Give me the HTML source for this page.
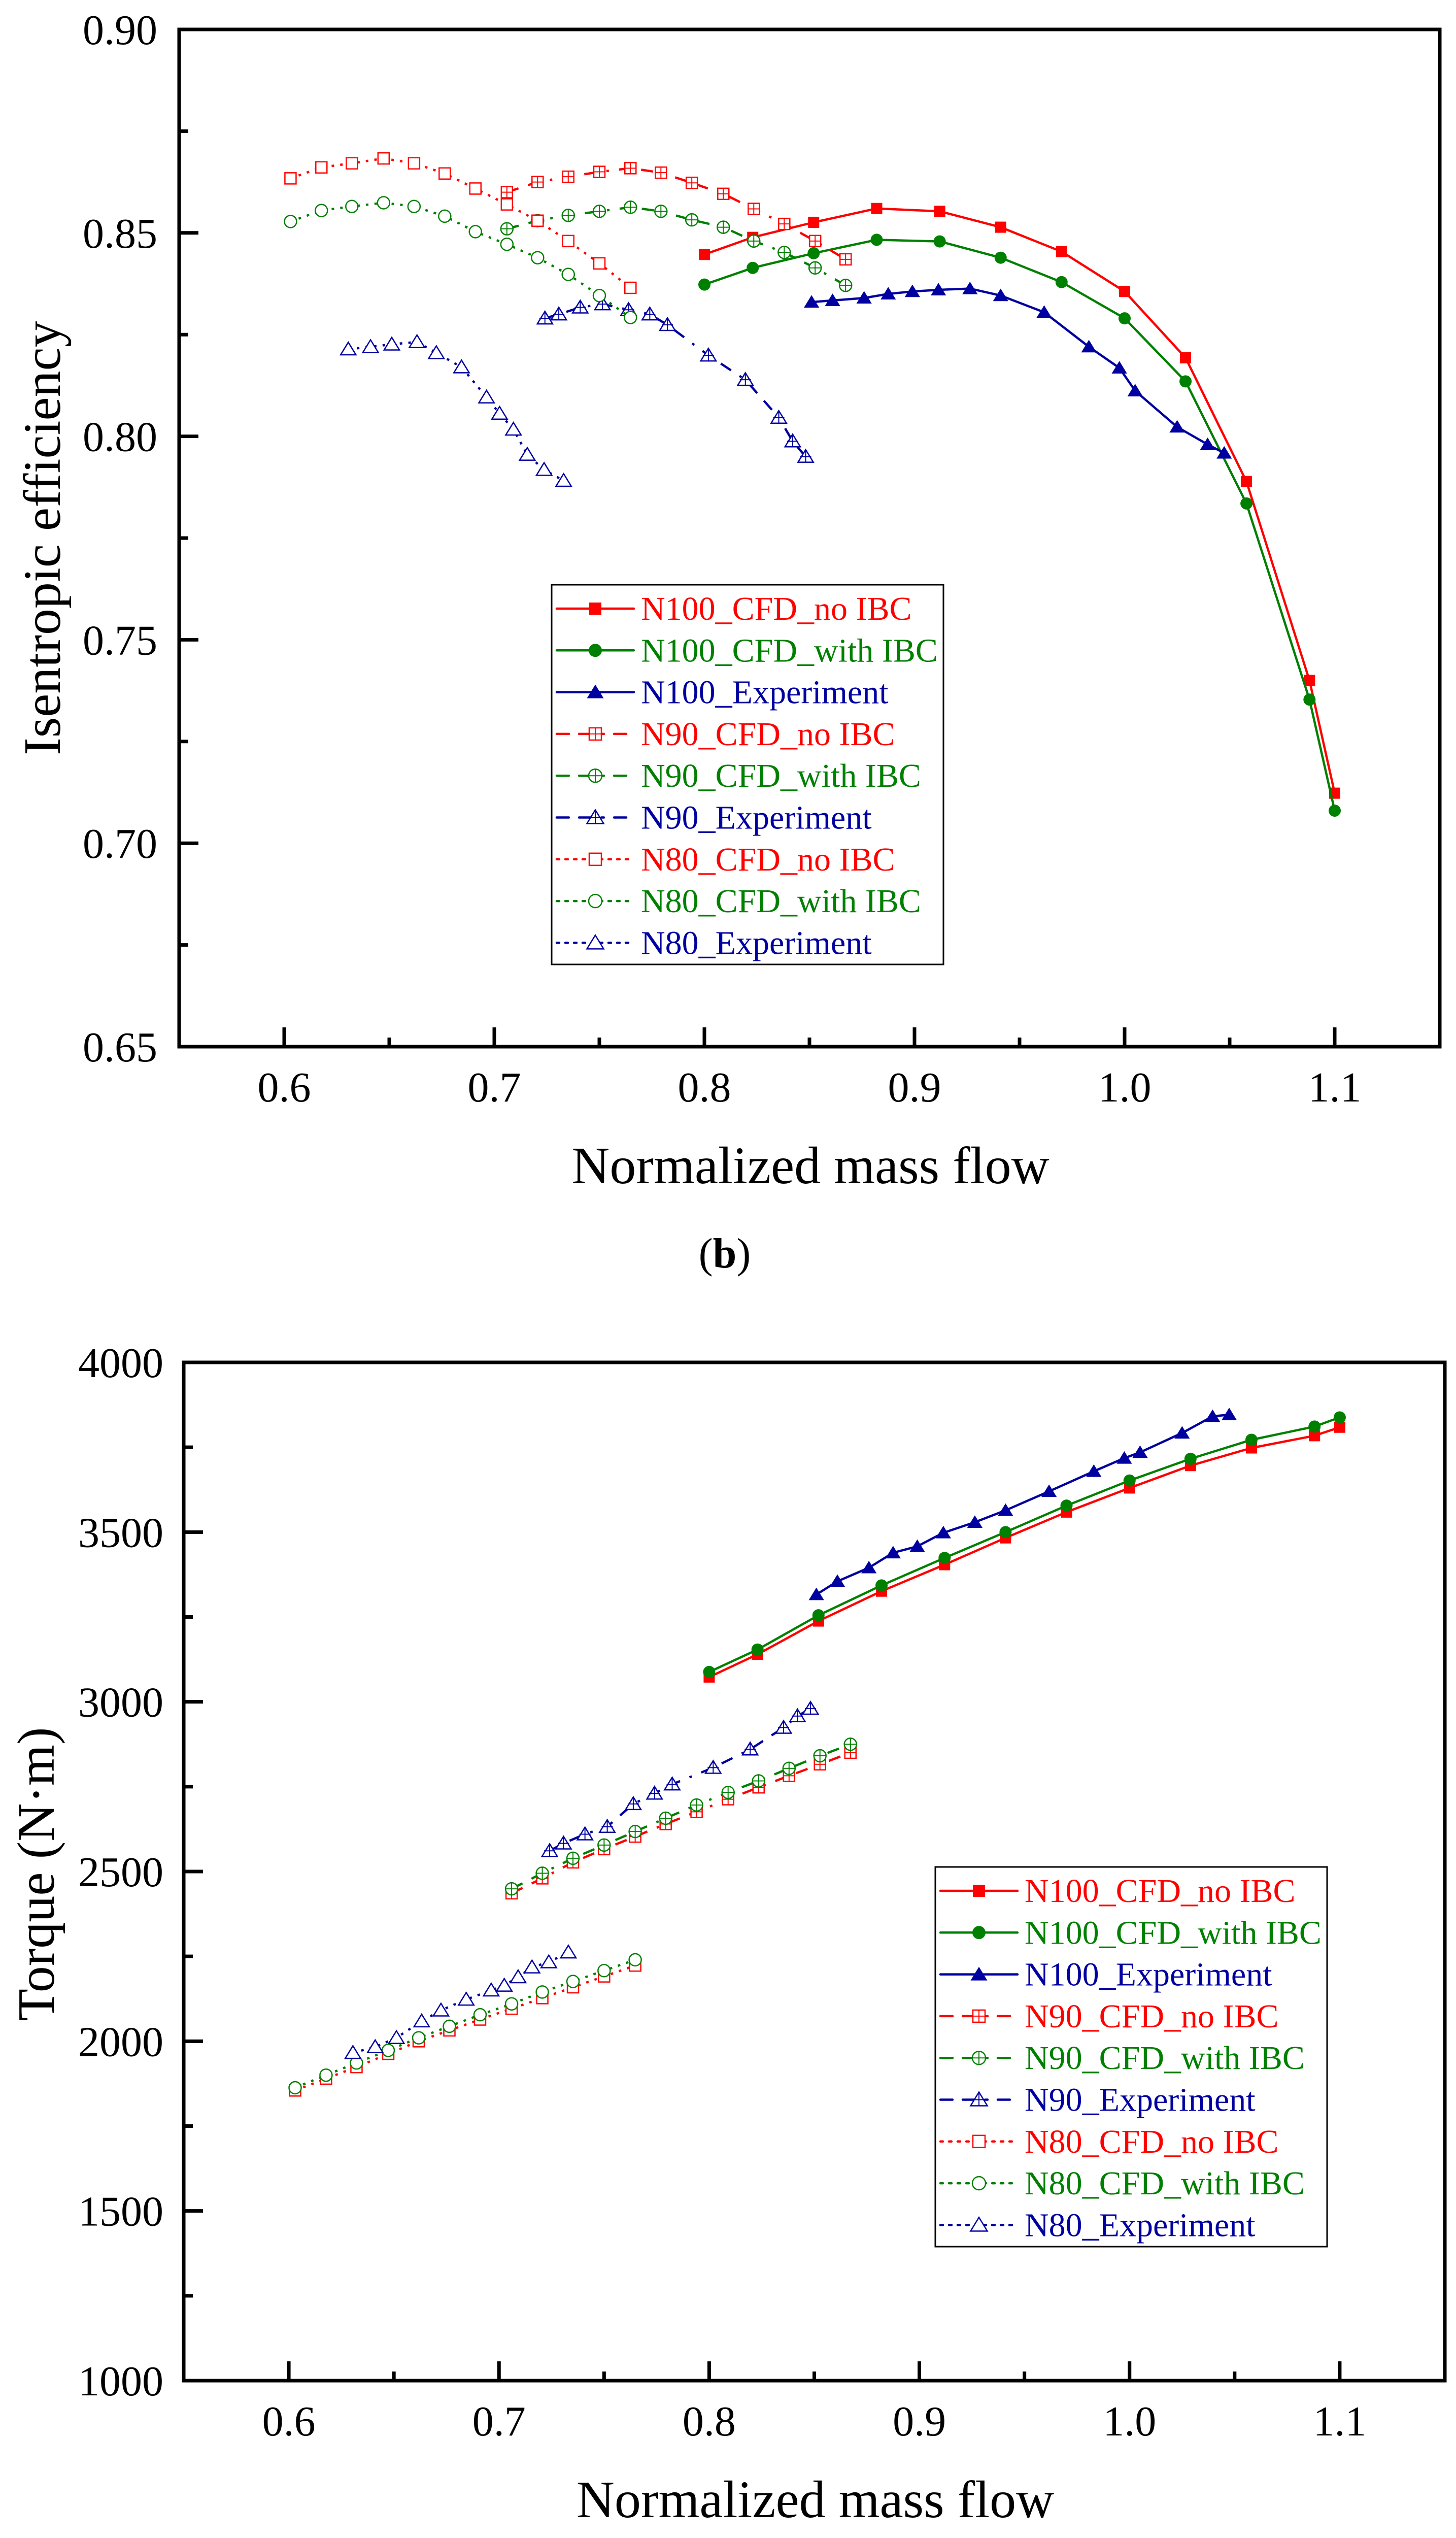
<!DOCTYPE html>
<html><head><meta charset="utf-8">
<style>
html,body{margin:0;padding:0;background:#fff;width:2869px;height:5170px;overflow:hidden;}
svg{display:block;font-family:"Liberation Serif","Times New Roman",serif;}
text{font-family:"Liberation Serif","Times New Roman",serif;}
</style></head>
<body>
<svg id="fig" width="2869" height="5170" viewBox="0 0 2869 5170" xmlns="http://www.w3.org/2000/svg" font-family="Liberation Serif, serif">
<rect width="2869" height="5170" fill="#fff"/>
</svg>
<script>
// ---------- shared x data ----------
const xN100 = [0.800,0.823,0.852,0.882,0.912,0.941,0.970,1.000,1.029,1.058,1.088,1.100];
const xN100exp = [0.851,0.861,0.876,0.8875,0.899,0.9114,0.9264,0.941,0.9617,0.983,0.9975,1.005,1.025,1.0395,1.0474];
const xN90 = [0.706,0.7206,0.7352,0.750,0.7648,0.7793,0.794,0.809,0.8235,0.838,0.8527,0.8672];
const xN90exp = [0.7241,0.7307,0.7409,0.7515,0.7639,0.774,0.7824,0.8019,0.8195,0.8354,0.842,0.8482];
const xN80 = [0.603,0.6177,0.6322,0.6473,0.6618,0.6764,0.691,0.706,0.7206,0.7352,0.750,0.7648];
const xN80exp = [0.6305,0.6411,0.6512,0.6632,0.6724,0.6844,0.6963,0.7025,0.7091,0.7157,0.7237,0.733];
// ---------- efficiency (b) ----------
const effN100no = [0.8447,0.8489,0.8526,0.856,0.8553,0.8514,0.8454,0.8356,0.8193,0.7889,0.740,0.7123];
const effN100with = [0.8373,0.8414,0.845,0.8483,0.8479,0.8439,0.8379,0.829,0.8135,0.7835,0.7353,0.708];
const effN100exp = [0.833,0.8334,0.834,0.835,0.8356,0.836,0.8363,0.8346,0.8305,0.822,0.8168,0.8112,0.8023,0.798,0.7959];
const effN90no = [0.860,0.8625,0.8638,0.865,0.8659,0.8648,0.8623,0.8596,0.8559,0.8522,0.848,0.8435];
const effN90with = [0.851,0.853,0.8543,0.8553,0.8563,0.8553,0.8532,0.8514,0.848,0.8452,0.8414,0.8371];
const effN90exp = [0.829,0.830,0.8317,0.8325,0.8311,0.830,0.8274,0.8199,0.8139,0.8046,0.7988,0.795];
const effN80no = [0.8634,0.8661,0.8671,0.8683,0.8671,0.8646,0.8609,0.857,0.853,0.848,0.8425,0.8365];
const effN80with = [0.8528,0.8555,0.8565,0.8574,0.8565,0.8541,0.8503,0.8472,0.8439,0.8398,0.8346,0.8292];
const effN80exp = [0.8214,0.822,0.8226,0.8232,0.8205,0.817,0.8096,0.8056,0.8017,0.7955,0.7918,0.7891];
// ---------- torque (c) ----------
const tqN100no = [3073,3140,3238,3326,3404,3483,3559,3630,3696,3748,3784,3809];
const tqN100with = [3088,3154,3255,3343,3424,3500,3578,3652,3716,3772,3811,3838];
const tqN100exp = [3316,3355,3395,3439,3458,3498,3529,3564,3620,3679,3718,3735,3792,3841,3846];
const tqN90no = [2436,2480,2527,2566,2603,2640,2676,2713,2748,2782,2816,2850];
const tqN90with = [2449,2495,2539,2578,2618,2657,2696,2733,2767,2804,2841,2875];
const tqN90exp = [2561,2583,2610,2632,2699,2730,2757,2806,2860,2924,2958,2980];
const tqN80no = [1855,1890,1924,1963,2000,2032,2064,2096,2127,2159,2191,2223];
const tqN80with = [1863,1900,1936,1973,2010,2044,2078,2110,2145,2176,2208,2240];
const tqN80exp = [1966,1983,2010,2059,2091,2123,2150,2164,2189,2218,2233,2262];
// ---------- ticks ----------
const xTicks = [0.6,0.7,0.8,0.9,1.0,1.1];
const xTickLabels = ["0.6","0.7","0.8","0.9","1.0","1.1"];
const effTicks = [0.65,0.70,0.75,0.80,0.85,0.90];
const effTickLabels = ["0.65","0.70","0.75","0.80","0.85","0.90"];
const tqTicks = [1000,1500,2000,2500,3000,3500,4000];
const tqTickLabels = ["1000","1500","2000","2500","3000","3500","4000"];
const legendLabels = ["N100_CFD_no IBC","N100_CFD_with IBC","N100_Experiment","N90_CFD_no IBC","N90_CFD_with IBC","N90_Experiment","N80_CFD_no IBC","N80_CFD_with IBC","N80_Experiment"];

const NS="http://www.w3.org/2000/svg";
const svg=document.getElementById('fig');
const FONT='"Liberation Serif", serif';
const RED="#ff0000",GRN="#008000",BLU="#0000a0";
function mk(tag,attrs,parent){const e=document.createElementNS(NS,tag);for(const k in attrs)e.setAttribute(k,attrs[k]);if(tag==='text')e.setAttribute('font-family',FONT);(parent||svg).appendChild(e);return e;}

const styles=[
 {c:RED,m:'sq',fill:true,dash:null},{c:GRN,m:'ci',fill:true,dash:null},{c:BLU,m:'tr',fill:true,dash:null},
 {c:RED,m:'sq',fill:false,plus:true,dash:"24 20 24 20 5 20"},{c:GRN,m:'ci',fill:false,plus:true,dash:"24 20 24 20 5 20"},{c:BLU,m:'tr',fill:false,plus:true,dash:"24 20 24 20 5 20"},
 {c:RED,m:'sq',fill:false,dash:"5 12"},{c:GRN,m:'ci',fill:false,dash:"5 12"},{c:BLU,m:'tr',fill:false,dash:"5 12"}];

function marker(g,st,x,y,big){
  const s=big?12:11;
  const f=st.fill?st.c:"#fff", sw=st.fill?0:2.5;
  let e;
  if(st.m==='sq'){e=mk('rect',{x:x-s,y:y-s,width:2*s,height:2*s,fill:f,stroke:st.c,'stroke-width':sw},g);}
  else if(st.m==='ci'){e=mk('circle',{cx:x,cy:y,r:s+1,fill:f,stroke:st.c,'stroke-width':sw},g);}
  else {const h=s*1.25;e=mk('polygon',{points:`${x},${y-h} ${x+h*1.1},${y+h*0.8} ${x-h*1.1},${y+h*0.8}`,fill:f,stroke:st.c,'stroke-width':sw},g);}
  
  
  if(st.plus){
    mk('line',{x1:x-s,y1:y,x2:x+s,y2:y,stroke:st.c,'stroke-width':2},g);
    mk('line',{x1:x,y1:y-s,x2:x,y2:y+s,stroke:st.c,'stroke-width':2},g);
  }
}

function chart(cfg){
  const {L,T,R,B,y0,y1,yT,yTL,yMinorStep,series,yTitle,yTitleX,yTitleY,xLabBase,xTitleBase,capBase,cap,leg,name,yLabRight}=cfg;
  const root=mk('g',{});
  
  
  const sx=v=>L+(v-0.55)/(0.6)*(R-L);
  const sy=v=>B-(v-y0)/(y1-y0)*(B-T);
  series.forEach((s,i)=>{
    const st=styles[i];
    const g=mk('g',{},root);
    
    
    const pts=s.x.map((xv,j)=>sx(xv).toFixed(1)+','+sy(s.y[j]).toFixed(1)).join(' ');
    const pl=mk('polyline',{points:pts,fill:'none',stroke:st.c,'stroke-width':4.5,'stroke-linejoin':'round'},g);
    if(st.dash)pl.setAttribute('stroke-dasharray',st.dash);
    s.x.forEach((xv,j)=>marker(g,st,sx(xv),sy(s.y[j])));
  });
  const fr=mk('rect',{x:L,y:T,width:R-L,height:B-T,fill:'none',stroke:'#000','stroke-width':7},root);
  
  
  for(let v=0.6;v<=1.1001;v+=0.05){
    const major=Math.abs(Math.round(v*10)-v*10)<1e-6;
    mk('line',{x1:sx(v),y1:B,x2:sx(v),y2:B-(major?38:18),stroke:'#000','stroke-width':7},root);
  }
  xTicks.forEach((v,i)=>{const t=mk('text',{x:sx(v),y:xLabBase,'font-size':84,'text-anchor':'middle'},root);t.textContent=xTickLabels[i];
    });
  for(let v=y0;v<=y1+1e-9;v+=yMinorStep){
    const major=yT.some(t=>Math.abs(t-v)<1e-6);
    mk('line',{x1:L,y1:sy(v),x2:L+(major?38:18),y2:sy(v),stroke:'#000','stroke-width':7},root);
  }
  yT.forEach((v,i)=>{const t=mk('text',{x:yLabRight,y:sy(v)+29,'font-size':84,'text-anchor':'end'},root);t.textContent=yTL[i];
    });
  const xt=mk('text',{x:(L+R)/2+2,y:xTitleBase,'font-size':104,'text-anchor':'middle'},root);xt.textContent='Normalized mass flow';
  
  const yt=mk('text',{x:0,y:0,'font-size':104,'text-anchor':'middle',transform:`translate(${yTitleX},${yTitleY}) rotate(-90)`},root);yt.textContent=yTitle;
  
  const cp=mk('text',{x:1428,y:capBase,'font-size':84,'text-anchor':'middle'},root);
  cp.innerHTML='(<tspan font-weight="bold">'+cap+'</tspan>)';
  
  const lg=mk('g',{},root);
  
  
  mk('rect',{x:leg.x,y:leg.y,width:772,height:748,fill:'#fff',stroke:'#000','stroke-width':3},lg);
  legendLabels.forEach((lab,i)=>{
    const st=styles[i];const cy=leg.y+47+i*82.3;
    const e=mk('g',{},lg);
    
    
    const ln=mk('line',{x1:leg.x+10,y1:cy,x2:leg.x+162,y2:cy,stroke:st.c,'stroke-width':4.5,'stroke-linecap':'round'},e);
    if(st.dash)ln.setAttribute('stroke-dasharray',st.dash);
    marker(e,st,leg.x+86,cy,true);
    const t=mk('text',{x:leg.x+176,y:cy+22,'font-size':66,fill:st.c},e);t.textContent=lab;
  });
}

chart({name:'efficiency-chart',L:353,T:58,R:2837,B:2062,y0:0.65,y1:0.90,yT:effTicks,yTL:effTickLabels,yMinorStep:0.025,
  series:[{x:xN100,y:effN100no},{x:xN100,y:effN100with},{x:xN100exp,y:effN100exp},{x:xN90,y:effN90no},{x:xN90,y:effN90with},{x:xN90exp,y:effN90exp},{x:xN80,y:effN80no},{x:xN80,y:effN80with},{x:xN80exp,y:effN80exp}],
  yTitle:'Isentropic efficiency',yTitleX:118,yTitleY:1060,xLabBase:2170,xTitleBase:2331,capBase:2497,cap:'b',leg:{x:1087,y:1152},yLabRight:310});
chart({name:'torque-chart',L:362,T:2684,R:2847,B:4690,y0:1000,y1:4000,yT:tqTicks,yTL:tqTickLabels,yMinorStep:250,
  series:[{x:xN100,y:tqN100no},{x:xN100,y:tqN100with},{x:xN100exp,y:tqN100exp},{x:xN90,y:tqN90no},{x:xN90,y:tqN90with},{x:xN90exp,y:tqN90exp},{x:xN80,y:tqN80no},{x:xN80,y:tqN80with},{x:xN80exp,y:tqN80exp}],
  yTitle:'Torque (N·m)',yTitleX:106,yTitleY:3692,xLabBase:4798,xTitleBase:4959,capBase:5134,cap:'c',leg:{x:1843,y:3678},yLabRight:322});
</script>
</body></html>
